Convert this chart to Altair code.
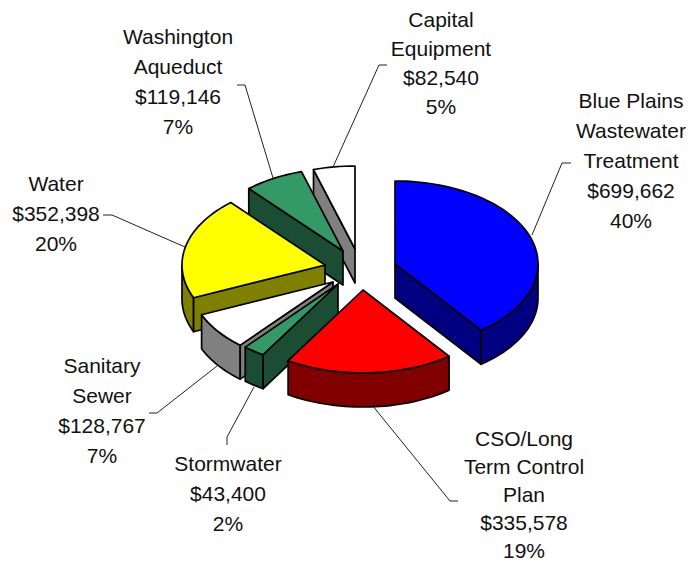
import math
import altair as alt

# ---- chart values ----
names = ["Blue Plains Wastewater Treatment", "CSO/Long Term Control Plan", "Stormwater",
         "Sanitary Sewer", "Water", "Washington Aqueduct", "Capital Equipment"]
amounts = [699662, 335578, 43400, 128767, 352398, 119146, 82540]
amount_labels = ["$699,662", "$335,578", "$43,400", "$128,767", "$352,398", "$119,146", "$82,540"]
percent_labels = ["40%", "19%", "2%", "7%", "20%", "7%", "5%"]
name_lines = [["Blue Plains", "Wastewater", "Treatment"], ["CSO/Long", "Term Control", "Plan"],
              ["Stormwater"], ["Sanitary", "Sewer"], ["Water"],
              ["Washington", "Aqueduct"], ["Capital", "Equipment"]]

# ---- styling and layout, kept apart from the values ----
top_colors = ["#0000FF", "#FF0000", "#339966", "#FFFFFF", "#FFFF00", "#339966", "#FFFFFF"]
side_colors = ["#000080", "#800000", "#1A4D33", "#808080", "#808000", "#1A4D33", "#808080"]
slice_centers = [(395, 264), (363, 290), (338, 284), (333, 282), (325, 265), (343, 251), (355, 249)]
draw_order = [6, 5, 4, 3, 2, 1, 0]
RX, RY, DEPTH = 143, 83, 34
label_centers = [(631, 102), (524, 440), (228, 465), (102, 367), (56, 185), (178, 38), (441, 21)]
line_steps = [30, 28, 30, 30, 30, 30, 29]
leaders = [
    [(571, 163), (562, 163), (532, 235)],
    [(458, 501), (450, 501), (372, 405)],
    [(227, 445), (227, 437), (254, 387)],
    [(149, 413), (157, 413), (217, 366)],
    [(103, 215), (112, 215), (185, 247)],
    [(237, 85), (245, 85), (273, 178)],
    [(387, 65), (379, 65), (333, 167)],
]


def rim(c, a, dy=0):
    return [c[0] + RX * math.sin(a), c[1] - RY * math.cos(a) + dy]


def arc(c, a0, a1, dy=0):
    n = max(2, int(abs(a1 - a0) / math.radians(2)))
    return [rim(c, a0 + (a1 - a0) * i / n, dy) for i in range(n + 1)]


def poly(points, fill):
    ring = list(points) + [points[0]]
    return {"type": "Feature", "properties": {"fill": fill},
            "geometry": {"type": "Polygon", "coordinates": [ring]}}


total = sum(amounts)
edges, running = [], 0.0
for v in amounts:
    edges.append((running / total * 2 * math.pi, (running + v) / total * 2 * math.pi))
    running += v

features = []
for i in draw_order:
    c, (a0, a1) = slice_centers[i], edges[i]
    side, top = side_colors[i], top_colors[i]
    wall0, wall1 = max(a0, math.pi / 2), min(a1, 3 * math.pi / 2)
    if wall1 > wall0:
        features.append(poly(arc(c, wall0, wall1) + arc(c, wall1, wall0, DEPTH), side))
    apex = list(c)
    low = [c[0], c[1] + DEPTH]
    if math.sin(a0) < -1e-6:
        features.append(poly([apex, rim(c, a0), rim(c, a0, DEPTH), low], side))
    if math.sin(a1) > 1e-6:
        features.append(poly([apex, rim(c, a1), rim(c, a1, DEPTH), low], side))
    features.append(poly([apex] + arc(c, a0, a1), top))

leader_features = [
    {"type": "Feature", "properties": {"name": names[i]},
     "geometry": {"type": "LineString", "coordinates": [list(p) for p in pts]}}
    for i, pts in enumerate(leaders)
]

text_rows = []
for i in range(len(names)):
    lines = name_lines[i] + [amount_labels[i], percent_labels[i]]
    cx, cy = label_centers[i]
    for k, line in enumerate(lines):
        text_rows.append({"t": line, "x": cx - 8, "y": cy - 8 + k * line_steps[i]})

proj = dict(type="identity", scale=1, translate=[-8, -8])

shapes = alt.Chart(alt.Data(values=features)).mark_geoshape(
    stroke="#000000", strokeWidth=1.7, strokeJoin="round"
).encode(fill=alt.Fill("properties.fill:N", scale=None)).project(**proj)

lines_layer = alt.Chart(alt.Data(values=leader_features)).mark_geoshape(
    filled=False, stroke="#222222", strokeWidth=1
).project(**proj)

texts = alt.Chart(alt.Data(values=text_rows)).mark_text(
    font="Liberation Sans", fontSize=21, color="#111111", align="center", baseline="middle"
).encode(
    x=alt.X("x:Q", scale=None, axis=None),
    y=alt.Y("y:Q", scale=None, axis=None),
    text="t:N",
)

chart = alt.layer(lines_layer, shapes, texts).properties(
    width=680, height=553, padding=0, background="white",
    autosize=alt.AutoSizeParams(type="none"),
).configure_view(stroke=None)

chart.save("out.html", embed_options={"renderer": "svg", "actions": False})
